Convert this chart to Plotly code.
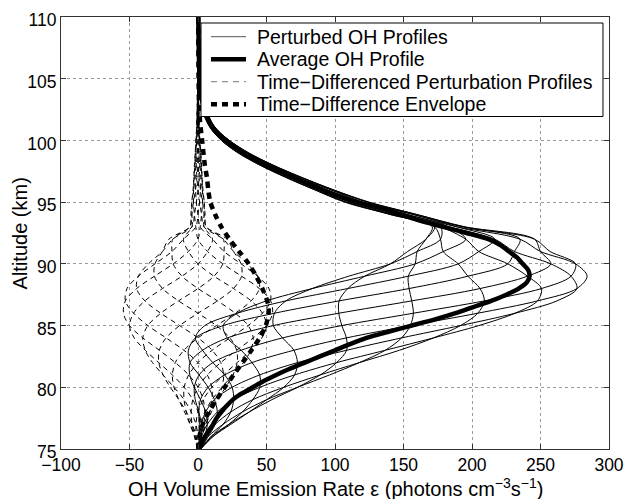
import numpy as np
import plotly.graph_objects as go

# Altitude grid (km) shared by the perturbed profiles
ALT = [75, 76, 77, 78, 79, 80, 81, 82, 83, 84, 85, 86, 87, 88, 89, 90, 91, 92,
       93, 94, 95, 96, 97, 98, 99, 100, 101, 102, 103, 104, 105, 107, 110]

# Perturbed OH volume emission rate profiles, one per time step
P00 = [0.1, 1.2, 1, 0.6, 1.8, 7.4, 19.5, 39.4, 70, 108.3, 155, 204.2, 247.8, 276.6, 284, 275.6, 250, 235, 189, 152.6, 116, 90.2, 67, 46.5, 29.5, 17.1, 9, 4.6, 2.6, 1.6, 1.1, 0.6, 0.27]
P01 = [0, 1.2, 2.5, 5.6, 12, 24.9, 45, 72.6, 108.5, 148.6, 191.6, 231.4, 262, 276.6, 272.3, 257.5, 231, 216.6, 183, 147.4, 111.5, 87, 64.8, 45.2, 29, 17.1, 9.3, 4.9, 3, 1.8, 1.3, 0.7, 0.3]
P02 = [0.1, 2.5, 6.8, 14.1, 26, 45.1, 70.5, 101.2, 136.7, 171.9, 205, 231.4, 247.8, 250.7, 240.5, 226.1, 205, 195.4, 177, 142.9, 108.2, 85.2, 64, 45.2, 29.5, 17.9, 10, 5.6, 3.5, 2.2, 1.5, 0.77, 0.3]
P03 = [0.5, 4.7, 12.5, 23.9, 40, 62.6, 89.2, 117.8, 147, 171.9, 191.6, 204.2, 209, 205.9, 197, 189.9, 179, 177, 172.6, 140.3, 107, 85.2, 64.8, 46.5, 31, 19.2, 11, 6.4, 4, 2.4, 1.65, 0.8, 0.27]
P04 = [1, 7.3, 18.3, 32.4, 50.2, 72.7, 96, 117.8, 136.7, 148.6, 155, 157.2, 156, 154.1, 153.5, 158.5, 160, 166.4, 171, 140.3, 108.2, 87, 67, 48.7, 33, 20.8, 12, 7.1, 4.4, 2.6, 1.7, 0.77, 0.23]
P05 = [1.5, 9.5, 22.5, 37.4, 54, 72.7, 89.2, 101.2, 108.5, 108.3, 105, 102.8, 103, 109.3, 121.7, 140.4, 153, 166.4, 172.6, 142.9, 111.5, 90.2, 70, 51.3, 35, 22.1, 12.7, 7.4, 4.5, 2.6, 1.65, 0.7, 0.17]
P06 = [1.9, 10.8, 24, 37.4, 50.2, 62.6, 70.5, 72.6, 70, 61.7, 55, 55.8, 64.2, 83.4, 110, 140.4, 160, 177, 177, 147.4, 116, 93.8, 73, 53.5, 36.5, 22.9, 13, 7.4, 4.4, 2.4, 1.5, 0.6, 0.13]
P07 = [2, 10.8, 22.5, 32.4, 40, 45.1, 45, 39.4, 31.5, 21.4, 18.4, 28.6, 50, 83.4, 121.7, 158.5, 179, 195.4, 183, 152.6, 120.5, 97, 75.2, 54.8, 37, 22.9, 12.7, 7.1, 4, 2.2, 1.3, 0.5, 0.1]
P08 = [1.9, 9.5, 18.3, 23.9, 26, 24.9, 19.5, 10.8, 3.3, -1.9, 5, 28.6, 64.2, 109.3, 153.5, 189.9, 205, 216.6, 189, 157.1, 123.8, 98.8, 76, 54.8, 36.5, 22.1, 12, 6.4, 3.5, 1.8, 1.1, 0.43, 0.1]
P09 = [1.5, 7.3, 12.5, 14.1, 12, 7.4, 0.8, -5.8, -7, -1.9, 18.4, 55.8, 103, 154.1, 197, 226.1, 231, 235, 193.4, 159.7, 125, 98.8, 75.2, 53.5, 35, 20.8, 11, 5.6, 3, 1.6, 0.95, 0.4, 0.13]
P10 = [1, 4.7, 6.8, 5.6, 1.8, -2.7, -6, -5.8, 3.3, 21.4, 55, 102.8, 156, 205.9, 240.5, 257.5, 250, 245.6, 195, 159.7, 123.8, 97, 73, 51.3, 33, 19.2, 10, 4.9, 2.6, 1.4, 0.9, 0.43, 0.17]
P11 = [0.5, 2.5, 2.5, 0.6, -2, -2.7, 0.8, 10.8, 31.5, 61.7, 105, 157.2, 209, 250.7, 272.3, 275.6, 257, 245.6, 193.4, 157.1, 120.5, 93.8, 70, 48.7, 31, 17.9, 9.3, 4.6, 2.5, 1.4, 0.95, 0.5, 0.23]
PERTURBED = [P00, P01, P02, P03, P04, P05, P06, P07, P08, P09, P10, P11]

# Average OH profile
AVG_ALT = [75, 75.5, 76, 76.5, 77, 77.5, 78, 78.5, 79, 79.5, 80, 80.5, 81, 81.5, 82, 82.5,
           83, 83.5, 84, 84.5, 85, 85.5, 86, 86.5, 87, 87.5, 88, 88.5, 89, 89.5, 90, 90.5,
           91, 91.5, 92, 92.5, 93, 93.5, 94, 94.5, 95, 95.5, 96, 97, 98, 99, 100, 101,
           102, 103, 104, 105, 107, 110]
AVG_VER = [0.5, 2.5, 5, 8, 11, 13.5, 17, 21, 25.5, 32, 40, 48, 57, 67, 78, 89,
           100, 111, 123, 139, 156, 173, 188, 201, 214, 225, 234, 240, 242, 241, 237, 233,
           227, 221, 212, 196, 179, 162, 148, 134, 115, 102, 91, 70, 50, 33, 20, 11,
           6.5, 3.5, 2, 1.3, 0.6, 0.2]

# Envelope of the time-differenced profiles
ENV_ALT = [75, 76, 77, 78, 79, 80, 81, 82, 83, 84, 85, 86, 86.5, 87, 88, 89, 90, 91,
           92, 93, 94, 95, 96, 97, 98, 100, 101.5, 103, 105, 110]
ENV_VAL = [0.3, 1, 3.5, 8, 13.5, 19.5, 26, 32.5, 39, 45, 49.5, 51.5, 51.5, 50.5, 47, 42.5, 37, 30,
           23, 17, 12.5, 9, 7.5, 6.5, 5, 3, 1.5, 0.8, 0.4, 0.2]

LEGEND_LABELS = ["Perturbed OH Profiles", "Average OH Profile",
                 "Time\u2212Differenced Perturbation Profiles", "Time\u2212Difference Envelope"]
X_TITLE = "OH Volume Emission Rate \u03b5 (photons cm<sup>\u22123</sup>s<sup>\u22121</sup>)"
Y_TITLE = "Altitude (km)"

FONT = "Liberation Sans, Arial, Helvetica, sans-serif"

THIN = dict(color="black", width=1.0)
THIN_DASH = dict(color="black", width=1.0, dash="5px,4px")
THICK = dict(color="black", width=4.5)
THICK_DASH = dict(color="black", width=4.5, dash="6px,5px")

fig = go.Figure()

for prof in PERTURBED:
    fig.add_trace(go.Scatter(
        x=prof, y=ALT, mode="lines",
        line=dict(**THIN, shape="spline", smoothing=0.9),
        name=LEGEND_LABELS[0], showlegend=False, hoverinfo="skip"))

# Differences between consecutive perturbed profiles
prof_arr = np.array(PERTURBED, dtype=float)
diffs = prof_arr - np.roll(prof_arr, 1, axis=0)
for d in diffs:
    fig.add_trace(go.Scatter(
        x=d, y=ALT, mode="lines",
        line=dict(**THIN_DASH, shape="spline", smoothing=0.9),
        name=LEGEND_LABELS[2], showlegend=False, hoverinfo="skip"))

fig.add_trace(go.Scatter(
    x=AVG_VER, y=AVG_ALT, mode="lines",
    line=dict(**THICK, shape="spline", smoothing=0.6),
    name=LEGEND_LABELS[1], showlegend=False))

fig.add_trace(go.Scatter(
    x=ENV_VAL, y=ENV_ALT, mode="lines",
    line=dict(**THICK_DASH, shape="spline", smoothing=0.8),
    name=LEGEND_LABELS[3], showlegend=False))

axis_common = dict(
    automargin=False,
    showline=True, linecolor="#333333", linewidth=1, mirror="ticks",
    ticks="inside", ticklen=5, tickcolor="#333333",
    showgrid=True, gridcolor="#9a9a9a", griddash="dot", gridwidth=1,
    zeroline=False, tickfont=dict(family=FONT, size=17.5, color="black"),
)

fig.update_xaxes(range=[-100, 300], tickvals=[-100, -50, 0, 50, 100, 150, 200, 250, 300],
                 **axis_common)
fig.update_yaxes(range=[75, 110], tickvals=[75, 80, 85, 90, 95, 100, 105, 110],
                 ticklabelshift=3, **axis_common)

# Legend box drawn in paper coordinates
box_x0, box_x1, box_y0, box_y1 = 0.2555, 0.989, 0.7697, 0.9861
row_y = [0.9544, 0.9021, 0.8502, 0.7979]
sample_x0, sample_x1, text_x = 0.2737, 0.3376, 0.354
sample_styles = [dict(color="#555555", width=1.0), THICK,
                 dict(color="#777777", width=1.0, dash="6px,5px"), THICK_DASH]

shapes = [dict(type="rect", xref="paper", yref="paper", x0=box_x0, x1=box_x1,
               y0=box_y0, y1=box_y1, fillcolor="white",
               line=dict(color="black", width=1), layer="above")]
annotations = []
for y, label, style in zip(row_y, LEGEND_LABELS, sample_styles):
    shapes.append(dict(type="line", xref="paper", yref="paper", x0=sample_x0, x1=sample_x1,
                       y0=y, y1=y, line=style, layer="above"))
    annotations.append(dict(xref="paper", yref="paper", x=text_x, y=y, xanchor="left",
                            yanchor="middle", text=label, showarrow=False,
                            font=dict(family=FONT, size=19.5, color="black")))

# Axis titles
annotations.append(dict(xref="paper", yref="paper", x=0.5, y=-0.088, xanchor="center",
                        yanchor="middle", text=X_TITLE, showarrow=False,
                        font=dict(family=FONT, size=20, color="black")))
annotations.append(dict(xref="paper", yref="paper", x=-0.074, y=0.5, xanchor="center",
                        yanchor="middle", text=Y_TITLE, textangle=-90, showarrow=False,
                        font=dict(family=FONT, size=20, color="black")))

fig.update_layout(
    width=625, height=499,
    margin=dict(l=61, r=16, t=17, b=50),
    paper_bgcolor="white", plot_bgcolor="white",
    font=dict(family=FONT, color="black"),
    showlegend=False,
    shapes=shapes, annotations=annotations,
)

fig.write_html("out.html")
